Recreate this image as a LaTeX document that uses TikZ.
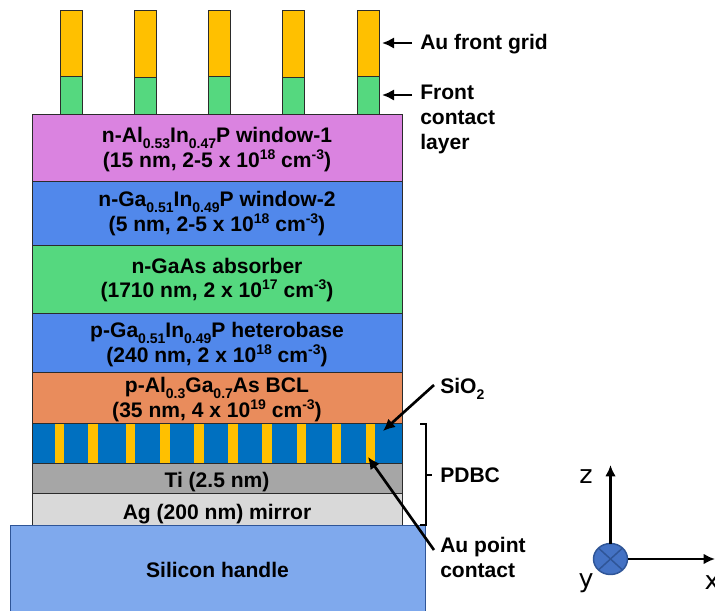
\documentclass[tikz,border=0pt]{standalone}
\usepackage{fontspec}
\usetikzlibrary{arrows.meta,shapes.geometric}
\setmainfont{Liberation Sans}
\newfontfamily\axisfont{DejaVu Sans}
\definecolor{cPink}{HTML}{DA83E0}
\definecolor{cBlue}{HTML}{5188EB}
\definecolor{cGreen}{HTML}{55D87F}
\definecolor{cOrange}{HTML}{E98C5C}
\definecolor{cDeep}{HTML}{0070C0}
\definecolor{cGold}{HTML}{FFC000}
\definecolor{cGray}{HTML}{A6A6A6}
\definecolor{cLight}{HTML}{D9D9D9}
\definecolor{cSi}{HTML}{7FA9ED}
\definecolor{cEdge}{HTML}{2B2B2B}
\definecolor{cAxis}{HTML}{4472C4}
\definecolor{cAxisEdge}{HTML}{2F5597}
\newcommand\sbs[1]{\raisebox{-0.28em}{\fontsize{10.5}{10.5}\selectfont #1}}
\newcommand\sps[1]{\raisebox{0.38em}{\fontsize{10.5}{10.5}\selectfont #1}}
\tikzset{
  x=0.75pt,y=-0.75pt,
  box/.style n args={3}{draw=cEdge,line width=0.55pt,fill=#1,minimum width=#2*0.75pt,minimum height=#3*0.75pt,inner sep=0pt,outer sep=0pt},
  layer/.style n args={2}{box={#1}{370}{#2}},
  txt/.style={align=center,inner sep=0pt,font=\bfseries\fontsize{15.8}{17.8}\selectfont},
  lab/.style={anchor=west,inner sep=0pt,align=left,font=\bfseries\fontsize{15.8}{18.75}\selectfont},
  arr/.style={-{Latex[length=9pt,width=8.5pt]},line width=2pt,black},
  axis/.style={-{Latex[length=8.5pt,width=8pt]},line width=2.2pt,black},
  axlab/.style={inner sep=0pt,font=\axisfont\fontsize{19}{19}\selectfont},
}
\begin{document}
\begin{tikzpicture}
\useasboundingbox (0,0) rectangle (715,611);
% front grid
\foreach \n/\cx/\t/\m in {1/71.5/10.5/76.5,2/145.5/10.5/77,3/219.5/10/76,4/293.5/10.5/77,5/368/10.5/76.5}{
  \pgfmathsetmacro\hgold{\m-\t}
  \pgfmathsetmacro\hcont{114.5-\m}
  \pgfmathsetmacro\ygold{(\m+\t)/2}
  \pgfmathsetmacro\ycont{(\m+114.5)/2}
  \node[box={cGold}{22}{\hgold}] (g\n) at (\cx,\ygold) {};
  \node[box={cGreen}{22}{\hcont}] (c\n) at (\cx,\ycont) {};
}
% layer stack
\node[layer={cPink}{66.5},label={[txt,yshift=-1.3pt]center:{n-Al\sbs{0.53}In\sbs{0.47}P window-1\\(15 nm, 2-5 x 10\sps{18} cm\sps{-3})}}] (w1) at (217,147.75) {};
\node[layer={cBlue}{64},label={[txt,yshift=-0.6pt]center:{n-Ga\sbs{0.51}In\sbs{0.49}P window-2\\(5 nm, 2-5 x 10\sps{18} cm\sps{-3})}}] (w2) at (217,213) {};
\node[layer={cGreen}{68},label={[txt,yshift=-1pt]center:{n-GaAs absorber\\(1710 nm, 2 x 10\sps{17} cm\sps{-3})}}] (abs) at (217,279) {};
\node[layer={cBlue}{59},label={[txt,yshift=-1.3pt]center:{p-Ga\sbs{0.51}In\sbs{0.49}P heterobase\\(240 nm, 2 x 10\sps{18} cm\sps{-3})}}] (hb) at (217,342.5) {};
\node[layer={cOrange}{51},label={[txt,yshift=-1.8pt,font=\bfseries\fontsize{15.8}{17.3}\selectfont]center:{p-Al\sbs{0.3}Ga\sbs{0.7}As BCL\\(35 nm, 4 x 10\sps{19} cm\sps{-3})}}] (bcl) at (217,397.5) {};
\node[box={cDeep}{370}{40}] (pd) at (217,443) {};
\foreach \n/\xa/\xb in {1/54.5/64,2/88/98,3/126/135,4/160/170,5/194/204,6/228/238,7/262/272,8/297/306,9/332/341,10/365.5/375}{
  \pgfmathsetmacro\swid{\xb-\xa}
  \pgfmathsetmacro\scen{(\xa+\xb)/2}
  \node[fill=cGold,draw=none,minimum width=\swid*0.75pt,minimum height=39*0.75pt,inner sep=0pt,outer sep=0pt] (s\n) at (\scen,443) {};
}
\node[layer={cGray}{30.5},label={[txt,yshift=-3.2pt]center:{Ti (2.5 nm)}}] (ti) at (217,478.25) {};
\node[layer={cLight}{31.5},label={[txt,yshift=-3.6pt]center:{Ag (200 nm) mirror}}] (ag) at (217,509.25) {};
\node[box={cSi}{415}{96},draw=cAxisEdge,label={[txt,yshift=2.2pt]center:{Silicon handle}}] (si) at (217.5,573) {};
% labels and arrows
\node[lab] (lgrid) at (420,44) {Au front grid};
\node[lab] (lfront) at (420,119) {Front\\contact\\layer};
\node[lab] (lsio) at (440,389) {SiO\sbs{2}};
\node[lab] (lpdbc) at (440,475) {PDBC};
\node[lab] (lpoint) at (440,557.5) {Au point\\contact};
\coordinate (tgrid) at (382,43);
\coordinate (sgrid) at (412,43);
\coordinate (tfront) at (382,95);
\coordinate (sfront) at (412,95);
\draw[arr] (sgrid) -- (tgrid);
\draw[arr] (sfront) -- (tfront);
\coordinate (ssio) at (434,385);
\coordinate (tsio) at (383,431);
\draw[arr] (ssio) -- (tsio);
\coordinate (spoint) at (434,550);
\coordinate (tpoint) at (368,457);
\draw[arr] (spoint) -- (tpoint);
% bracket
\coordinate (b1) at (420,424);
\coordinate (b2) at (426,424);
\coordinate (b3) at (426,525);
\coordinate (b4) at (420,525);
\coordinate (bm) at (426,475);
\coordinate (bt) at (432,475);
\draw[line width=2pt,black] (b1) -- (b2) -- (b3) -- (b4);
\draw[line width=2pt,black] (bm) -- (bt);
% axes
\node[draw=cAxisEdge,fill=cAxis,line width=1.1pt,ellipse,minimum width=34*0.75pt,minimum height=31*0.75pt,inner sep=0pt,outer sep=0pt] (o) at (610.5,559) {};
\coordinate (zend) at (610.5,465);
\coordinate (xend) at (715,559);
\draw[axis] (o.north) -- (zend);
\draw[axis] (o.east) -- (xend);
\draw[cAxisEdge,line width=1.1pt] (o.north west) -- (o.south east) (o.north east) -- (o.south west);
\node[axlab] (lz) at (586,477) {z};
\node[axlab] (ly) at (586,583) {y};
\node[axlab] (lx) at (712,583) {x};
\end{tikzpicture}
\end{document}
